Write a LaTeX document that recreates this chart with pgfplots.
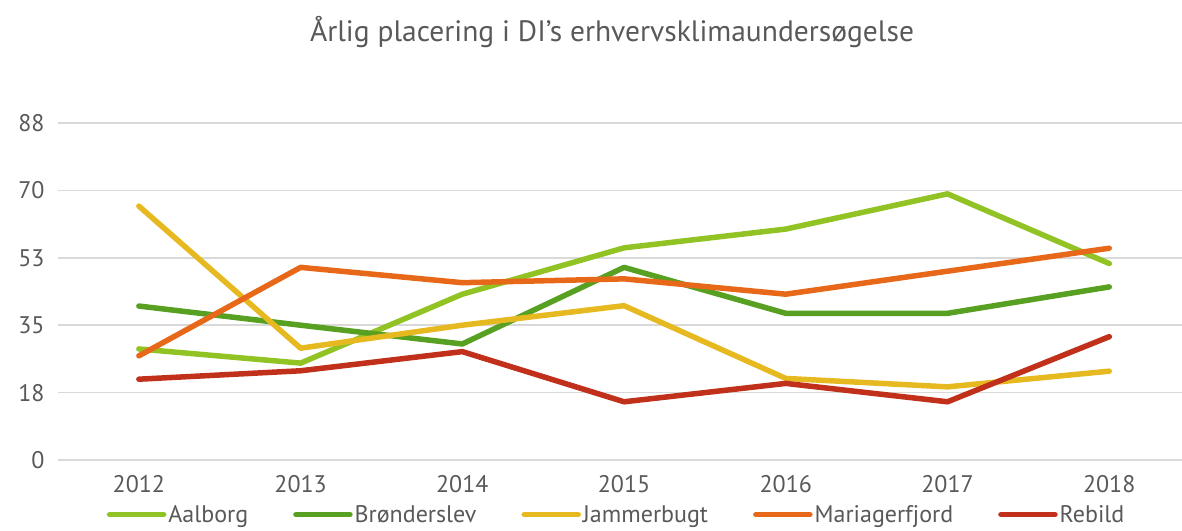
\documentclass[border=0pt]{standalone}
\usepackage{pgfplots}
\pgfplotsset{compat=1.18}
\usepackage{fontspec}
\setmainfont{PT Sans}

\definecolor{txt}{RGB}{89,89,89}
\definecolor{gridc}{RGB}{217,217,217}
\definecolor{aal}{RGB}{146,195,36}
\definecolor{bro}{RGB}{87,160,33}
\definecolor{jam}{RGB}{230,185,32}
\definecolor{mar}{RGB}{232,104,26}
\definecolor{reb}{RGB}{192,48,26}

\begin{document}
\begin{tikzpicture}
\useasboundingbox (0,0) rectangle (1182pt,530pt);
\node[text=txt, font=\fontsize{29.5}{34}\selectfont] at (612pt,498pt) {Årlig placering i DI’s erhvervsklimaundersøgelse};
\begin{axis}[
    at={(58pt,70pt)}, anchor=south west,
    scale only axis,
    width=1124pt, height=337pt,
    xmin=-0.5, xmax=6.45,
    ymin=0, ymax=88,
    axis line style={draw=none},
    major tick length=0pt,
    xtick={0,...,6},
    xticklabels={2012,2013,2014,2015,2016,2017,2018},
    ytick={0,17.6,35.2,52.8,70.4,88},
    yticklabels={0,18,35,53,70,88},
    xmajorgrids=false,
    ymajorgrids=true,
    y grid style={gridc, line width=1.5pt},
    ticklabel style={text=txt, font=\fontsize{24}{28}\selectfont},
    yticklabel style={xshift=-10pt},
    xticklabel style={yshift=-12pt},
    clip=false,
    legend columns=5,
    legend style={draw=none, fill=none, at={(0.497,-0.162)}, anchor=center,
        text=txt, font=\fontsize{24}{28}\selectfont,
        /tikz/every even column/.append style={column sep=43pt},
        inner sep=0pt},
    legend image code/.code={\draw[#1, line width=5.5pt] (0pt,0pt) -- (54pt,0pt);},
    every axis plot/.append style={line width=5.5pt, line cap=round, line join=round, mark=none},
]
\addplot[aal] coordinates {(0,29.0) (1,25.3) (2,43.3) (3,55.4) (4,60.3) (5,69.5) (6,51.3)};
\addlegendentry{Aalborg}
\addplot[bro] coordinates {(0,40.2) (1,35.2) (2,30.3) (3,50.3) (4,38.3) (5,38.3) (6,45.2)};
\addlegendentry{Brønderslev}
\addplot[jam] coordinates {(0,66.3) (1,29.2) (2,35.2) (3,40.3) (4,21.3) (5,19.1) (6,23.2)};
\addlegendentry{Jammerbugt}
\addplot[mar] coordinates {(0,27.2) (1,50.3) (2,46.3) (3,47.3) (4,43.3) (5,49.3) (6,55.3)};
\addlegendentry{Mariagerfjord}
\addplot[reb] coordinates {(0,21.1) (1,23.3) (2,28.3) (3,15.2) (4,20.0) (5,15.2) (6,32.2)};
\addlegendentry{Rebild}
\end{axis}
\end{tikzpicture}
\end{document}
